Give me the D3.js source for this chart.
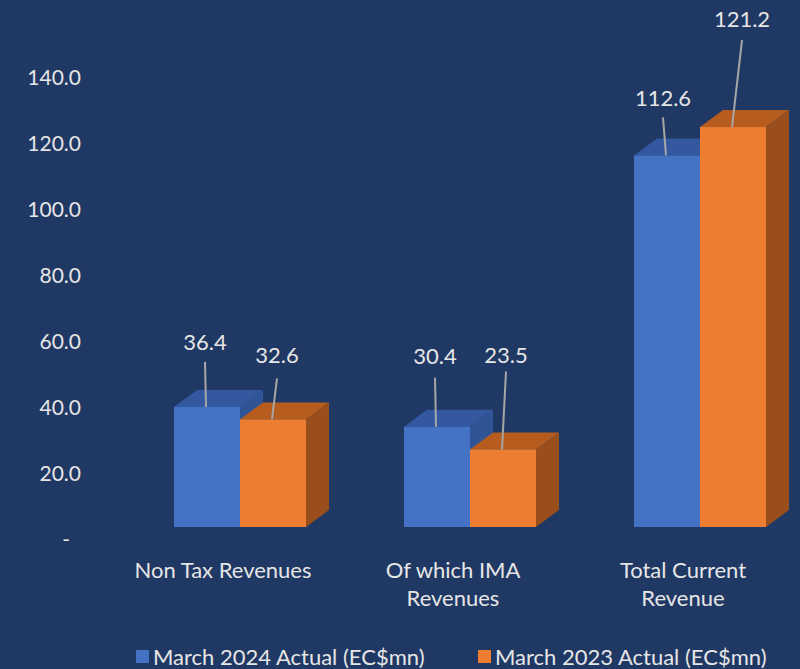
<!DOCTYPE html>
<html>
<head>
<meta charset="utf-8">
<script src="https://cdn.jsdelivr.net/npm/d3@7"></script>
<style>
  html, body { margin: 0; padding: 0; background: #203864; }
  text { font-family: Lato, "Noto Sans", sans-serif; fill: #e6e6e6; }
</style>
</head>
<body>
<div id="chart"></div>
<script>
// ---------------------------------------------
// Revenue comparison, 3D clustered columns
// ---------------------------------------------

const categories = ["Non Tax Revenues", "Of which IMA Revenues", "Total Current Revenue"];
const categoryLines = [["Non Tax Revenues"], ["Of which IMA", "Revenues"], ["Total Current", "Revenue"]];
const seriesNames = ["March 2024 Actual (EC$mn)", "March 2023 Actual (EC$mn)"];
const march2024 = [36.4, 30.4, 112.6];
const march2023 = [32.6, 23.5, 121.2];
const yTicks = [0, 20, 40, 60, 80, 100, 120, 140];

(() => {
  const width = 800, height = 669;
  const depth = { dx: 23, dy: -17 };   // oblique depth of the columns
  const colors = [
    { front: "#4472c4", top: "#3358a0", side: "#2f5597" },
    { front: "#ed7d31", top: "#b65c1e", side: "#9a4e1b" }
  ];
  // leader label placement relative to bar top-centre [dx of text, lift of text, top of line]
  const labelLayout = [
    [[-2, 57, 45], [4, 56, 41]],
    [[-2, 63, 49], [3, 86, 78]],
    [[-4, 49, 38], [9, 100, 87]]
  ];

  const svg = d3.select("#chart").append("svg")
    .attr("width", width)
    .attr("height", height);

  svg.append("rect").attr("width", width).attr("height", height).attr("fill", "#203864");

  const x = d3.scalePoint().domain(categories).range([240, 700]);
  const sub = d3.scaleBand().domain(seriesNames).range([-66, 66]);
  const y = d3.scaleLinear().domain([0, 140]).range([527, 65]);

  // y axis (back wall labels sit a bit lower than the front faces)
  const axis = svg.append("g")
    .attr("transform", "translate(81,13)")
    .call(d3.axisLeft(y).tickValues(yTicks).tickSize(0).tickPadding(0)
      .tickFormat(d => d === 0 ? "-" : d.toFixed(1)));
  axis.select(".domain").remove();
  axis.selectAll("text")
    .attr("fill", "#e6e6e6")
    .style("font-size", "21px")
    .style("font-family", "Lato, sans-serif")
    .attr("dx", d => d === 0 ? -11 : 0);

  const series = [march2024, march2023];
  const bw = sub.bandwidth();

  categories.forEach((cat, ci) => {
    series.forEach((vals, si) => {
      const v = vals[ci];
      const x0 = x(cat) + sub(seriesNames[si]);
      const x1 = x0 + bw;
      const yt = y(v), yb = y(0);
      const c = colors[si];
      const g = svg.append("g");

      // side
      g.append("path")
        .attr("d", `M${x1},${yt}L${x1 + depth.dx},${yt + depth.dy}L${x1 + depth.dx},${yb + depth.dy}L${x1},${yb}Z`)
        .attr("fill", c.side);
      // top
      g.append("path")
        .attr("d", `M${x0},${yt}L${x0 + depth.dx},${yt + depth.dy}L${x1 + depth.dx},${yt + depth.dy}L${x1},${yt}Z`)
        .attr("fill", c.top);
      // front
      g.append("rect")
        .attr("x", x0).attr("y", yt)
        .attr("width", bw).attr("height", yb - yt)
        .attr("fill", c.front);
    });
  });

  // value labels with leader lines
  categories.forEach((cat, ci) => {
    series.forEach((vals, si) => {
      const v = vals[ci];
      const cx = x(cat) + sub(seriesNames[si]) + bw / 2;
      const yt = y(v);
      const [tdx, lift, lineTop] = labelLayout[ci][si];
      svg.append("line")
        .attr("x1", cx + tdx).attr("y1", yt - lineTop)
        .attr("x2", cx - 1).attr("y2", yt)
        .attr("stroke", "#a6a6a6")
        .attr("stroke-width", 2);
      svg.append("text")
        .attr("x", cx + tdx)
        .attr("y", yt - lift)
        .attr("text-anchor", "middle")
        .style("font-size", "22px")
        .text(v.toFixed(1));
    });
  });

  // category labels
  categories.forEach((cat, ci) => {
    const t = svg.append("text")
      .attr("x", x(cat) - 17)
      .attr("y", 578)
      .attr("text-anchor", "middle")
      .style("font-size", "22px");
    categoryLines[ci].forEach((ln, li) => {
      t.append("tspan").attr("x", x(cat) - 17).attr("dy", li === 0 ? 0 : 28).text(ln);
    });
  });

  // legend
  const legendX = [136, 478];
  seriesNames.forEach((name, si) => {
    svg.append("rect")
      .attr("x", legendX[si]).attr("y", 650)
      .attr("width", 13).attr("height", 13)
      .attr("fill", colors[si].front);
    svg.append("text")
      .attr("x", legendX[si] + 17).attr("y", 665)
      .style("font-size", "22px")
      .text(name);
  });
})();
</script>
</body>
</html>
